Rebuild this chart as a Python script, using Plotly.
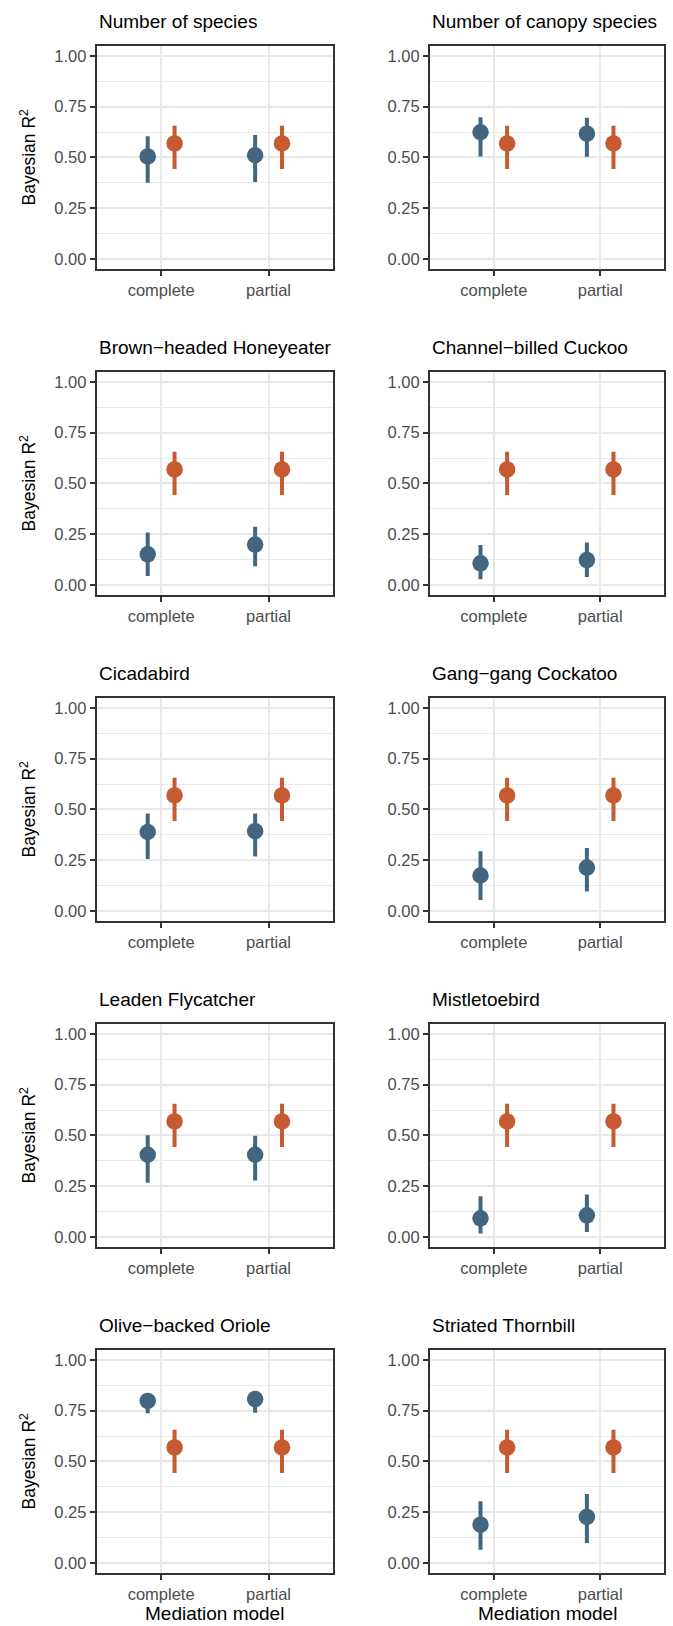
import plotly.graph_objects as go

# ---------------- data ----------------
panels = ["Number of species", "Number of canopy species",
          "Brown\u2212headed Honeyeater", "Channel\u2212billed Cuckoo",
          "Cicadabird", "Gang\u2212gang Cockatoo",
          "Leaden Flycatcher", "Mistletoebird",
          "Olive\u2212backed Oriole", "Striated Thornbill"]
models = ["complete", "partial"]

blue_mid_complete = [0.505, 0.624, 0.151, 0.107, 0.389, 0.175, 0.405, 0.092, 0.798, 0.189]
blue_lo_complete = [0.376, 0.505, 0.044, 0.028, 0.256, 0.054, 0.267, 0.018, 0.737, 0.066]
blue_hi_complete = [0.604, 0.698, 0.258, 0.197, 0.480, 0.294, 0.501, 0.201, 0.830, 0.304]
blue_mid_partial = [0.511, 0.617, 0.199, 0.123, 0.393, 0.214, 0.405, 0.107, 0.807, 0.227]
blue_lo_partial = [0.379, 0.503, 0.093, 0.039, 0.269, 0.096, 0.278, 0.025, 0.740, 0.099]
blue_hi_partial = [0.610, 0.695, 0.287, 0.209, 0.480, 0.310, 0.498, 0.209, 0.840, 0.340]

orange_mid_complete = [0.569, 0.569, 0.569, 0.569, 0.569, 0.569, 0.569, 0.569, 0.569, 0.569]
orange_lo_complete = [0.443, 0.443, 0.443, 0.443, 0.443, 0.443, 0.443, 0.443, 0.443, 0.443]
orange_hi_complete = [0.656, 0.656, 0.656, 0.656, 0.656, 0.656, 0.656, 0.656, 0.656, 0.656]
orange_mid_partial = [0.569, 0.569, 0.569, 0.569, 0.569, 0.569, 0.569, 0.569, 0.569, 0.569]
orange_lo_partial = [0.443, 0.443, 0.443, 0.443, 0.443, 0.443, 0.443, 0.443, 0.443, 0.443]
orange_hi_partial = [0.656, 0.656, 0.656, 0.656, 0.656, 0.656, 0.656, 0.656, 0.656, 0.656]

y_tickvals = [0.0, 0.25, 0.5, 0.75, 1.0]
y_ticktext = ["0.00", "0.25", "0.50", "0.75", "1.00"]
y_minor = [0.125, 0.375, 0.625, 0.875]

# ---------------- style ----------------
W, H = 673, 1626
BLUE = "#436680"
ORANGE = "#C65A31"
GRID = "#E8E8E8"
FRAME = "#333333"
FONT = "Liberation Sans, Arial, sans-serif"
TICK_SIZE = 16.5
TITLE_SIZE = 19
YTITLE_SIZE = 17.5

col_x = [(96.7, 333.0), (430.0, 664.0)]
row_top0, row_step, panel_h = 45.7, 326.0, 223.5

fig = go.Figure()
annotations = []

for i, name in enumerate(panels):
    r, c = divmod(i, 2)
    k = i + 1
    xa = "x" if k == 1 else f"x{k}"
    ya = "y" if k == 1 else f"y{k}"
    top = row_top0 + r * row_step
    bot = top + panel_h
    x0, x1 = col_x[c]

    series = [
        ("blue", BLUE, "a",
         [blue_mid_complete[i], blue_mid_partial[i]],
         [blue_lo_complete[i], blue_lo_partial[i]],
         [blue_hi_complete[i], blue_hi_partial[i]]),
        ("orange", ORANGE, "b",
         [orange_mid_complete[i], orange_mid_partial[i]],
         [orange_lo_complete[i], orange_lo_partial[i]],
         [orange_hi_complete[i], orange_hi_partial[i]]),
    ]
    for sname, color, og, mid, lo, hi in series:
        fig.add_trace(go.Scatter(
            x=models, y=mid, xaxis=xa, yaxis=ya, mode="markers",
            name=sname, offsetgroup=og, showlegend=False,
            marker=dict(color=color, size=16.5, line=dict(width=0)),
            error_y=dict(type="data", symmetric=False,
                         array=[h - m for h, m in zip(hi, mid)],
                         arrayminus=[m - l for m, l in zip(mid, lo)],
                         color=color, thickness=4, width=0),
        ))

    xkey = "xaxis" if k == 1 else f"xaxis{k}"
    ykey = "yaxis" if k == 1 else f"yaxis{k}"
    fig.layout[xkey] = dict(
        domain=[x0 / W, x1 / W], anchor=ya, type="category",
        categoryorder="array", categoryarray=models,
        range=[-0.6, 1.6], showgrid=True, gridcolor=GRID, gridwidth=2,
        showline=True, linecolor=FRAME, linewidth=2, mirror=True,
        ticks="outside", ticklen=5, tickwidth=2, tickcolor=FRAME,
        tickfont=dict(family=FONT, size=TICK_SIZE, color="#4D4D4D"),
        zeroline=False, fixedrange=True,
    )
    fig.layout[ykey] = dict(
        domain=[1 - bot / H, 1 - top / H], anchor=xa,
        range=[-0.05, 1.05], tickvals=y_tickvals, ticktext=y_ticktext,
        showgrid=True, gridcolor=GRID, gridwidth=2,
        minor=dict(tickvals=y_minor, showgrid=True, gridcolor=GRID,
                   gridwidth=1, ticks=""),
        showline=True, linecolor=FRAME, linewidth=2, mirror=True,
        ticks="outside", ticklen=5, tickwidth=2, tickcolor=FRAME,
        tickfont=dict(family=FONT, size=TICK_SIZE, color="#4D4D4D"),
        zeroline=False, fixedrange=True,
    )

    annotations.append(dict(
        text=name, xref="paper", yref="paper", x=x0 / W,
        y=1 - (top - 24) / H, xanchor="left", yanchor="middle",
        showarrow=False, font=dict(family=FONT, size=TITLE_SIZE, color="#000000"),
    ))
    if c == 0:
        annotations.append(dict(
            text="Bayesian R<sup>2</sup>", xref="paper", yref="paper",
            x=28 / W, y=1 - (top + panel_h / 2) / H, textangle=-90,
            xanchor="center", yanchor="middle", showarrow=False,
            font=dict(family=FONT, size=YTITLE_SIZE, color="#000000"),
        ))
    if r == 4:
        annotations.append(dict(
            text="Mediation model", xref="paper", yref="paper",
            x=(x0 + x1) / 2 / W, y=1 - 1613 / H,
            xanchor="center", yanchor="middle", showarrow=False,
            font=dict(family=FONT, size=TITLE_SIZE, color="#000000"),
        ))

fig.update_layout(
    width=W, height=H, margin=dict(l=0, r=0, t=0, b=0),
    paper_bgcolor="white", plot_bgcolor="white",
    scattermode="group", scattergap=0.5,
    annotations=annotations, showlegend=False,
)

fig.write_html(
    "out.html",
    config={"displayModeBar": False, "staticPlot": True},
    post_script="document.body.style.margin='0px';document.body.style.overflow='hidden';",
)
